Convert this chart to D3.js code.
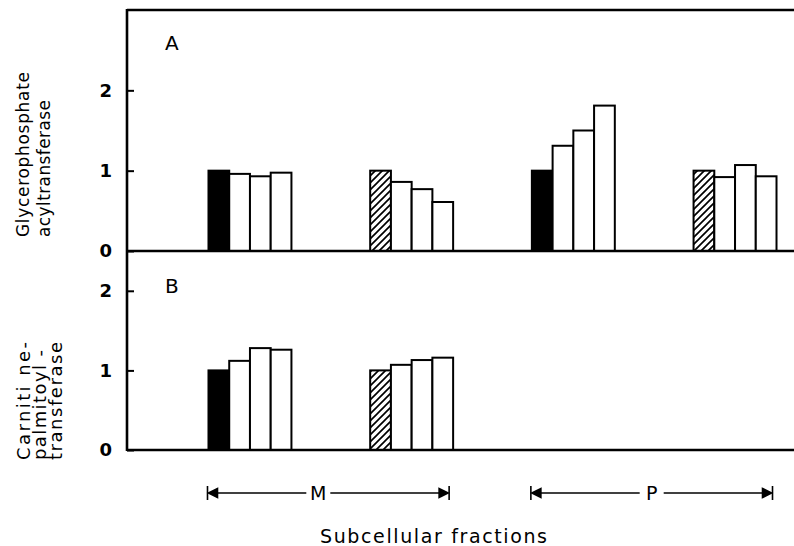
<!DOCTYPE html>
<html>
<head>
<meta charset="utf-8">
<script src="https://cdn.jsdelivr.net/npm/d3@7"></script>
<style>
  html, body { margin: 0; padding: 0; background: #fff; }
  svg { display: block; }
</style>
</head>
<body>
<div id="chartContainer"></div>
<script>
// Data
const groups = ["M1", "M2", "P1", "P2"];
const fractions = ["M", "P"];
const groupFraction = ["M", "M", "P", "P"];
const bars = ["b1", "b2", "b3", "b4"];
const firstBarKind = ["solid", "hatched", "solid", "hatched"];
const glyceroValues = [
    [1.00, 0.96, 0.93, 0.975],
    [1.00, 0.86, 0.77, 0.61],
    [1.00, 1.31, 1.50, 1.81],
    [1.00, 0.92, 1.07, 0.93]
];
const carnitineValues = [
    [1.00, 1.12, 1.28, 1.26],
    [1.00, 1.07, 1.13, 1.16],
    [],
    []
];
const tickValues = [0, 1, 2];
const panelLetters = ["A", "B"];
const yTitles = [
    ["Glycerophosphate", "acyltransferase"],
    ["Carniti ne-", "palmitoyl -", "transferase"]
];

function createChart() {
    const width = 794;
    const height = 546;
    const marginLeft = 127;
    const frameTop = 10;
    const midLine = 251;
    const bottomLine = 450;
    const font = "'DejaVu Sans', sans-serif";

    const x = d3.scaleBand()
        .domain(groups)
        .range([marginLeft, 858])
        .paddingInner(0.487)
        .paddingOuter(0.504);

    const xInner = d3.scaleBand()
        .domain(bars)
        .range([0, x.bandwidth()]);

    const yA = d3.scaleLinear().domain([0, 3]).range([midLine, frameTop]);
    const yB = d3.scaleLinear().domain([0, 2.5]).range([bottomLine, midLine]);

    const svg = d3.create("svg")
        .attr("viewBox", [0, 0, width, height])
        .attr("width", width)
        .attr("height", height);

    // hatch pattern for the striped bars
    svg.append("defs").append("pattern")
        .attr("id", "hatch")
        .attr("patternUnits", "userSpaceOnUse")
        .attr("width", 7)
        .attr("height", 7)
        .append("path")
        .attr("d", "M-1,1 l2,-2 M0,7 l7,-7 M6,8 l2,-2")
        .attr("stroke", "#000")
        .attr("stroke-width", 1.7);

    const panels = [
        { y: yA, values: glyceroValues, letter: panelLetters[0] },
        { y: yB, values: carnitineValues, letter: panelLetters[1] }
    ];

    panels.forEach((p, pi) => {
        const data = [];
        p.values.forEach((vals, gi) => {
            vals.forEach((v, bi) => data.push({ group: groups[gi], bar: bars[bi], value: v, gi, bi }));
        });

        svg.append("g")
            .selectAll("rect")
            .data(data)
            .join("rect")
            .attr("x", d => x(d.group) + xInner(d.bar))
            .attr("y", d => p.y(d.value))
            .attr("width", xInner.bandwidth())
            .attr("height", d => p.y(0) - p.y(d.value))
            .attr("fill", d => d.bi > 0 ? "#fff" : (firstBarKind[d.gi] === "solid" ? "#000" : "url(#hatch)"))
            .attr("stroke", "#000")
            .attr("stroke-width", 2);

        // left axis: inward ticks, labels outside
        svg.append("g")
            .attr("transform", `translate(${marginLeft},0)`)
            .call(d3.axisLeft(p.y).tickValues(tickValues).tickSizeInner(-7).tickSizeOuter(0).tickPadding(15).tickFormat(d3.format("d")))
            .call(g => g.select(".domain").remove())
            .call(g => g.selectAll("line").attr("stroke", "#000").attr("stroke-width", 2))
            .call(g => g.selectAll("text")
                .attr("font-family", font)
                .attr("font-size", 18)
                .attr("font-weight", "bold")
                .attr("fill", "#000"));

        svg.append("text")
            .attr("x", 165)
            .attr("y", p.y.range()[1] + (pi === 0 ? 40 : 42))
            .attr("font-family", font)
            .attr("font-size", 20)
            .text(p.letter);
    });

    // frame
    const frame = svg.append("g").attr("stroke", "#000").attr("stroke-width", 2.6).attr("fill", "none");
    frame.append("line").attr("x1", marginLeft).attr("x2", marginLeft).attr("y1", frameTop - 1).attr("y2", bottomLine + 1);
    frame.append("line").attr("x1", marginLeft).attr("x2", width).attr("y1", frameTop).attr("y2", frameTop);
    frame.append("line").attr("x1", marginLeft).attr("x2", width).attr("y1", midLine).attr("y2", midLine);
    frame.append("line").attr("x1", marginLeft).attr("x2", width).attr("y1", bottomLine).attr("y2", bottomLine);

    // y titles (rotated)
    const titleSpecs = [
        { bottom: 237, xs: [29, 50], lengths: [165, 137] },
        { bottom: 460, xs: [30, 46, 62], lengths: [118, 110, 118] }
    ];
    yTitles.forEach((lines, i) => {
        lines.forEach((t, j) => {
            svg.append("text")
                .attr("transform", `translate(${titleSpecs[i].xs[j]},${titleSpecs[i].bottom}) rotate(-90)`)
                .attr("font-family", font)
                .attr("font-size", i === 0 ? 17 : 18)
                .attr("text-anchor", "start")
                .attr("textLength", titleSpecs[i].lengths[j])
                .attr("lengthAdjust", "spacing")
                .text(t);
        });
    });

    // fraction brackets
    const bracketY = 493;
    const labelOffset = { M: -10, P: 0 };
    const br = svg.append("g").attr("stroke", "#000").attr("stroke-width", 1.6);
    fractions.forEach(f => {
        const gs = groups.filter((g, i) => groupFraction[i] === f);
        const left = x(gs[0]) - 1;
        const right = x(gs[gs.length - 1]) + x.bandwidth() - 4;
        const cx = (left + right) / 2 + labelOffset[f];
        br.append("line").attr("x1", left).attr("x2", left).attr("y1", bracketY - 7).attr("y2", bracketY + 7);
        br.append("line").attr("x1", right).attr("x2", right).attr("y1", bracketY - 7).attr("y2", bracketY + 7);
        br.append("line").attr("x1", left + 2).attr("x2", cx - 12).attr("y1", bracketY).attr("y2", bracketY);
        br.append("line").attr("x1", cx + 12).attr("x2", right - 2).attr("y1", bracketY).attr("y2", bracketY);
        br.append("path").attr("d", `M${left + 1},${bracketY} l9,-4.5 v9 z`).attr("fill", "#000");
        br.append("path").attr("d", `M${right - 1},${bracketY} l-9,-4.5 v9 z`).attr("fill", "#000");
        svg.append("text")
            .attr("x", cx)
            .attr("y", bracketY + 7)
            .attr("text-anchor", "middle")
            .attr("font-family", font)
            .attr("font-size", 19)
            .text(f);
    });

    svg.append("text")
        .attr("x", 320)
        .attr("y", 543)
        .attr("font-family", font)
        .attr("font-size", 19)
        .attr("textLength", 227)
        .attr("lengthAdjust", "spacing")
        .text("Subcellular fractions");

    return svg.node();
}

document.getElementById("chartContainer").appendChild(createChart());
</script>
</body>
</html>
